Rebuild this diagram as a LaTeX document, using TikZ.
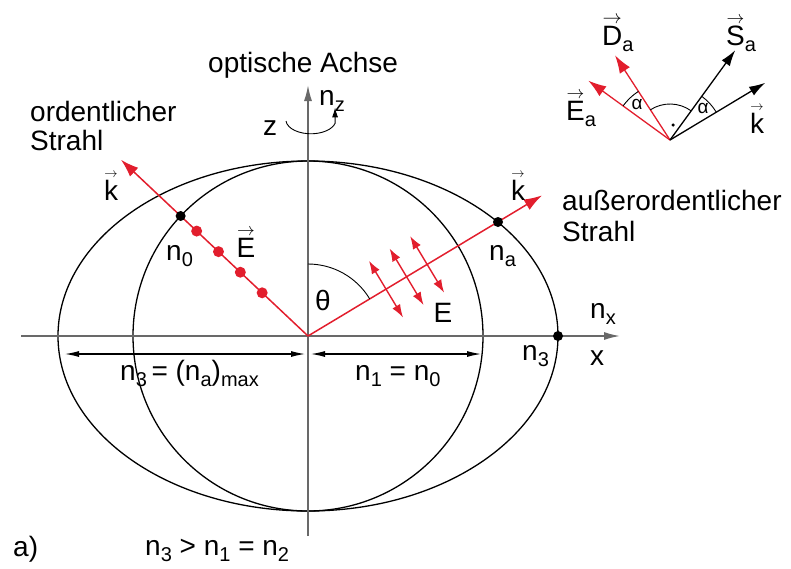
\documentclass[tikz,border=0pt]{standalone}
\usepackage{fontspec}
\setmainfont{Liberation Sans}
\usetikzlibrary{arrows.meta,calc}
\definecolor{rd}{RGB}{226,30,45}
\definecolor{axg}{RGB}{105,105,105}
\newcommand\sbs[1]{\raisebox{-0.24em}{\fontsize{20}{20}\selectfont #1}}
\newcommand\vek[1]{\leavevmode\setbox0\hbox{#1}\rlap{\hbox to\wd0{\hss\raisebox{\dimexpr\ht0+2pt\relax}{\resizebox{0.95\wd0}{!}{$\rightarrow$}}\hss}}\box0}
\begin{document}
\begin{tikzpicture}[x=1pt,y=-1pt,
  txt/.style={font=\fontsize{28}{30}\selectfont, inner sep=0pt},
  small/.style={font=\fontsize{19}{20}\selectfont, inner sep=0pt},
  curve/.style={line width=1.3pt, black},
  axisline/.style={line width=1.6pt, axg, -{Latex[length=16pt,width=8pt]}},
  rray/.style={line width=1.5pt, rd, -{Latex[length=18pt,width=12pt]}},
  bray/.style={line width=1.3pt, black, -{Latex[length=16pt,width=10pt]}},
  edbl/.style={line width=1.4pt, rd, {Latex[length=13pt,width=9pt]}-{Latex[length=13pt,width=9pt]}},
  dimline/.style={line width=1.1pt, black, {Latex[length=14pt,width=6pt]}-{Latex[length=14pt,width=6pt]}},
  dotb/.style={circle, fill=black, inner sep=0pt, minimum size=10pt},
  dotr/.style={circle, fill=rd, inner sep=0pt, minimum size=11pt},
  thin/.style={line width=0.9pt, black}]
\useasboundingbox (0,0) rectangle (791,568);
\coordinate (O) at (308,336);
% ellipse and circle
\draw[curve] (O) ellipse [x radius=250pt, y radius=175pt];
\draw[curve] (O) circle [radius=175pt];
% axes
\coordinate (zb) at (308,536);
\coordinate (zt) at (308,85);
\coordinate (xl) at (21,336);
\coordinate (xr) at (620,336);
\draw[axisline] (zb) -- (zt);
\draw[axisline] (xl) -- (xr);
% rotation arrow
\coordinate (rs) at (286,121);
\draw[thin, -{Latex[length=10pt,width=6pt]}] (rs) arc[start angle=175, end angle=15, x radius=25, y radius=14] -- ++(0,-16);
% dimension lines
\coordinate (d1) at (65,354);
\coordinate (d2) at (305,354);
\coordinate (d3) at (311,354);
\coordinate (d4) at (481,354);
\draw[dimline] (d1) -- (d2);
\draw[dimline] (d3) -- (d4);
% ordinary ray
\coordinate (kl) at ($(O)+(-136.7:257)$);
\draw[rray] (O) -- (kl);
\foreach \r/\nm in {63/ra,93/rb,123/rc,153/rd}
  \node[dotr] (\nm) at ($(O)+(-136.7:\r)$) {};
\node[dotb] (n0dot) at ($(O)+(-136.7:175)$) {};
% extraordinary ray
\coordinate (kr) at ($(O)+(-31:273)$);
\draw[rray] (O) -- (kr);
\foreach \r/\nm in {91/ca,115/cb,139/cc}{
  \coordinate (\nm) at ($(O)+(-31:\r)$);
  \draw[edbl] ($(\nm)+(-121:33)$) -- ($(\nm)+(59:33)$);}
\node[dotb] (nadot) at (498,222) {};
\node[dotb] (n3dot) at (558,336) {};
% theta arc
\draw[thin] ($(O)+(-90:72)$) arc[start angle=-90, end angle=-31, radius=72];
% labels main
\node[txt, anchor=base west] (oa) at (208,72) {optische Achse};
\node[txt, anchor=base west] (ord1) at (30,121) {ordentlicher};
\node[txt, anchor=base west] (ord2) at (30,150) {Strahl};
\node[txt, anchor=base west] (aord1) at (562,210) {außerordentlicher};
\node[txt, anchor=base west] (aord2) at (562,241) {Strahl};
\node[txt, anchor=base west] (nz) at (319,105) {n\sbs{z}};
\node[txt] (zl) at (270,128) {z};
\node[txt, anchor=base] (kll) at (111,200) {\vek{k}};
\node[txt, anchor=base] (krl) at (518,200) {\vek{k}};
\node[txt, anchor=base] (El) at (246,257) {\vek{E}};
\node[txt, anchor=base west] (n0l) at (166,260) {n\sbs{0}};
\node[txt, anchor=base west] (nal) at (489,260) {n\sbs{a}};
\node[txt] (thl) at (323,300) {θ};
\node[txt] (Er) at (443,313) {E};
\node[txt, anchor=base west] (nxl) at (590,318) {n\sbs{x}};
\node[txt, anchor=base west] (xlab) at (590,365) {x};
\node[txt, anchor=base west] (n3l) at (522,360) {n\sbs{3}};
\node[txt, anchor=base west] (dl1) at (120,380) {n\sbs{3}\,= (n\sbs{a})\sbs{max}};
\node[txt, anchor=base west] (dl2) at (355,380) {n\sbs{1} = n\sbs{0}};
\node[txt, anchor=base west] (al) at (13,556) {a)};
\node[txt, anchor=base west] (cond) at (145,555) {n\sbs{3} > n\sbs{1} = n\sbs{2}};
% top-right vector diagram
\coordinate (P) at (670,140);
\coordinate (Et) at ($(P)+(-144:101)$);
\coordinate (Dt) at ($(P)+(-123:101)$);
\coordinate (St) at ($(P)+(-54:111)$);
\coordinate (kt) at ($(P)+(-31:111)$);
\draw[rray, line width=1.3pt] (P) -- (Et);
\draw[rray, line width=1.3pt] (P) -- (Dt);
\draw[bray] (P) -- (St);
\draw[bray] (P) -- (kt);
\draw[thin] ($(P)+(-144:58)$) arc[start angle=-144, end angle=-123, radius=58];
\draw[thin] ($(P)+(-54:54)$) arc[start angle=-54, end angle=-31, radius=54];
\draw[thin] ($(P)+(-123:36)$) arc[start angle=-123, end angle=-54, radius=36];
\node[dotb, minimum size=3.5pt] (rdot) at (673,125) {};
\node[small] (al1) at (637,104) {α};
\node[small] (al2) at (703,108) {α};
\node[txt, anchor=base west] (Dl) at (602,45) {\vek{D}\sbs{a}};
\node[txt, anchor=base west] (Sl) at (726,45) {\vek{S}\sbs{a}};
\node[txt, anchor=base west] (Eal) at (566,120) {\vek{E}\sbs{a}};
\node[txt, anchor=base] (kal) at (757,133) {\vek{k}};
\end{tikzpicture}
\end{document}
